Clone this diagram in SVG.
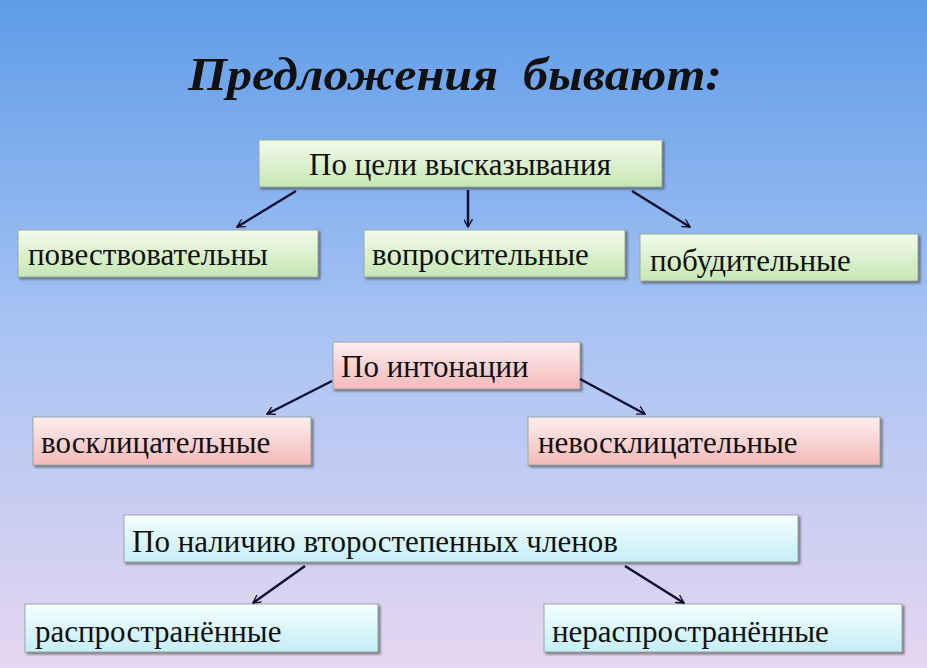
<svg xmlns="http://www.w3.org/2000/svg" width="927" height="668" viewBox="0 0 927 668">
<defs>
<linearGradient id="bg" x1="0" y1="0" x2="0" y2="1"><stop offset="0" stop-color="#5f9ce8"/><stop offset="0.5" stop-color="#a9c4f4"/><stop offset="1" stop-color="#e6d6f0"/></linearGradient>
<linearGradient id="gr" x1="0" y1="0" x2="0" y2="1"><stop offset="0" stop-color="#f2fbea"/><stop offset="1" stop-color="#c6e6b4"/></linearGradient>
<linearGradient id="pk" x1="0" y1="0" x2="0" y2="1"><stop offset="0" stop-color="#fdeeee"/><stop offset="1" stop-color="#f4b9b9"/></linearGradient>
<linearGradient id="cy" x1="0" y1="0" x2="0" y2="1"><stop offset="0" stop-color="#f4ffff"/><stop offset="1" stop-color="#c4eef6"/></linearGradient>
<marker id="ah" viewBox="0 0 10 10" refX="9" refY="5" markerWidth="9" markerHeight="9" orient="auto" markerUnits="userSpaceOnUse"><path d="M0,0 L9,5 L0,10" fill="none" stroke="#111133" stroke-width="1.5"/></marker>
</defs>
<style>
.b{stroke:#9aa8a0;stroke-width:1;filter:drop-shadow(2px 2px 1px rgba(60,60,60,0.6))}
.t{font-family:"Liberation Serif",serif;font-size:31px;fill:#111}
.c{stroke:#111133;stroke-width:2.5;fill:none;marker-end:url(#ah)}
</style>
<rect width="927" height="668" fill="url(#bg)"/>
<text x="188" y="90" textLength="534" lengthAdjust="spacingAndGlyphs" font-family="Liberation Serif,serif" font-size="46" font-weight="bold" font-style="italic" fill="#111" xml:space="preserve">Предложения  бывают:</text>
<g id="n1"><rect class="b" x="259" y="140" width="403" height="47" fill="url(#gr)"/><text class="t" x="460" y="175" text-anchor="middle">По цели высказывания</text></g>
<g id="n2"><rect class="b" x="18" y="230" width="300" height="47" fill="url(#gr)"/><text class="t" x="28" y="265">повествовательны</text></g>
<g id="n3"><rect class="b" x="364" y="230" width="261" height="47" fill="url(#gr)"/><text class="t" x="372" y="265">вопросительные</text></g>
<g id="n4"><rect class="b" x="640" y="234" width="278" height="47" fill="url(#gr)"/><text class="t" x="650" y="271">побудительные</text></g>
<g id="n5"><rect class="b" x="333" y="342" width="247" height="47" fill="url(#pk)"/><text class="t" x="341" y="377">По интонации</text></g>
<g id="n6"><rect class="b" x="33" y="417" width="278" height="48" fill="url(#pk)"/><text class="t" x="41" y="453">восклицательные</text></g>
<g id="n7"><rect class="b" x="528" y="417" width="352" height="48" fill="url(#pk)"/><text class="t" x="538" y="453">невосклицательные</text></g>
<g id="n8"><rect class="b" x="124" y="515" width="674" height="47" fill="url(#cy)"/><text class="t" x="132" y="552">По наличию второстепенных членов</text></g>
<g id="n9"><rect class="b" x="25" y="604" width="353" height="48" fill="url(#cy)"/><text class="t" x="35" y="642">распространённые</text></g>
<g id="n10"><rect class="b" x="544" y="604" width="358" height="48" fill="url(#cy)"/><text class="t" x="552" y="642">нераспространённые</text></g>
<g id="connectors">
<path class="c" d="M296,191 L237,227"/>
<path class="c" d="M468,190 L468,227"/>
<path class="c" d="M632,191 L690,227"/>
<path class="c" d="M332,381 L267,414"/>
<path class="c" d="M580,379 L645,414"/>
<path class="c" d="M305,566 L253,603"/>
<path class="c" d="M625,566 L684,603"/>
</g>
</svg>
